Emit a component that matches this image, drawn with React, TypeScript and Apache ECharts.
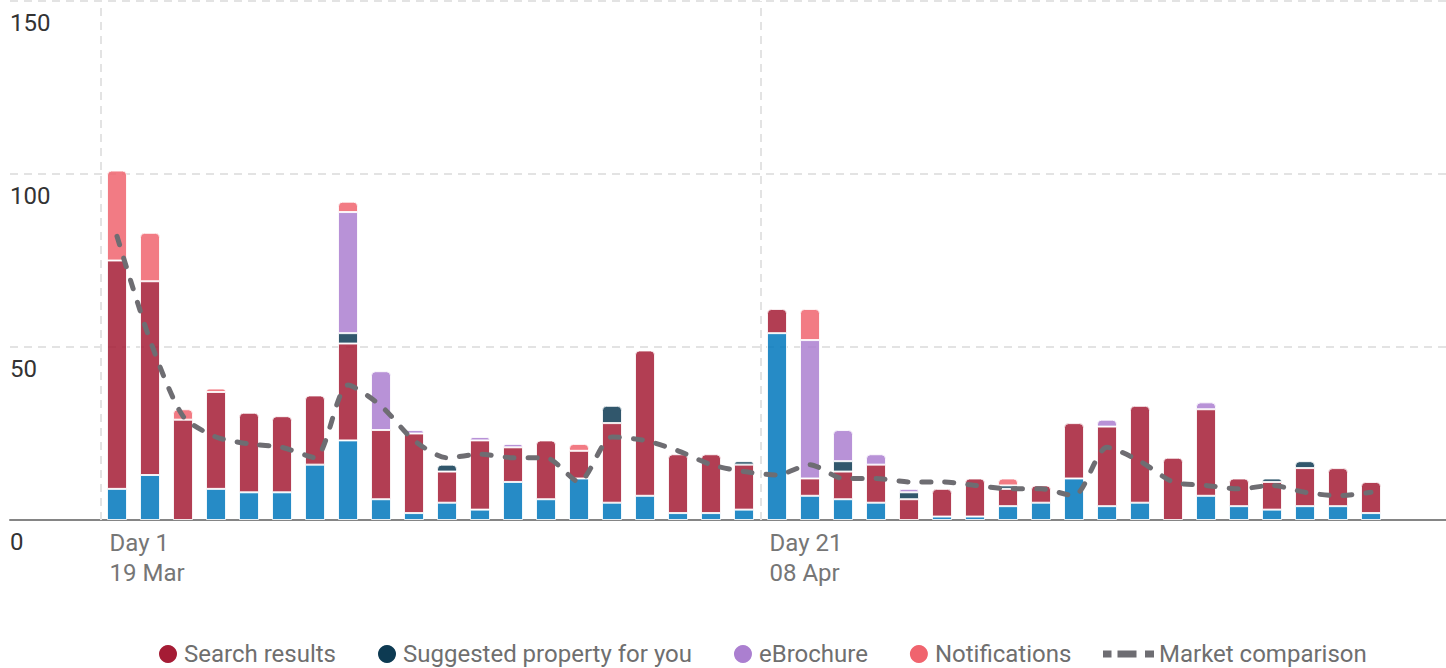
import React, { useEffect, useRef } from 'react';
import * as echarts from 'echarts';

// ---- data ----
const days = [1, 2, 3, 4, 5, 6, 7, 8, 9, 10, 11, 12, 13, 14, 15, 16, 17, 18, 19, 20, 21, 22, 23, 24, 25, 26, 27, 28, 29, 30, 31, 32, 33, 34, 35, 36, 37, 38, 39];
const tickDays = [1, 21];
const tickDayLabels = ['Day 1', 'Day 21'];
const tickDateLabels = ['19 Mar', '08 Apr'];

// bottom segment (not in legend)
const otherViews = [9, 13, 0, 9, 8, 8, 16, 23, 6, 2, 5, 3, 11, 6, 12, 5, 7, 2, 2, 3, 54, 7, 6, 5, 0, 1, 1, 4, 5, 12, 4, 5, 0, 7, 4, 3, 4, 4, 2];
const searchResults = [66, 56, 29, 28, 23, 22, 20, 28, 20, 23, 9, 20, 10, 17, 8, 23, 42, 17, 17, 13, 7, 5, 8, 11, 6, 8, 11, 5, 5, 16, 23, 28, 18, 25, 8, 8, 11, 11, 9];
const suggested = [0, 0, 0, 0, 0, 0, 0, 3, 0, 0, 2, 0, 0, 0, 0, 5, 0, 0, 0, 1, 0, 0, 3, 0, 2, 0, 0, 1, 0, 0, 0, 0, 0, 0, 0, 1, 2, 0, 0];
const eBrochure = [0, 0, 0, 0, 0, 0, 0, 35, 17, 1, 0, 1, 1, 0, 0, 0, 0, 0, 0, 0, 0, 40, 9, 3, 1, 0, 0, 0, 0, 0, 2, 0, 0, 2, 0, 0, 0, 0, 0];
const notifications = [26, 14, 3, 1, 0, 0, 0, 3, 0, 0, 0, 0, 0, 0, 2, 0, 0, 0, 0, 0, 0, 9, 0, 0, 0, 0, 0, 2, 0, 0, 0, 0, 0, 0, 0, 0, 0, 0, 0];
const marketComparison = [82, 52, 30, 24, 22, 21, 18, 39, 33, 23, 18, 19, 18, 18, 11, 24, 23, 20, 16, 14, 13, 16, 12, 12, 11, 11, 10, 9, 9, 7, 21, 17, 11, 10, 9, 10, 8, 7, 8];

const barSeriesDefs = [
  { name: 'Other', values: otherViews, color: '#0077bc' },
  { name: 'Search results', values: searchResults, color: '#a51c35' },
  { name: 'Suggested property for you', values: suggested, color: '#0d3a52' },
  { name: 'eBrochure', values: eBrochure, color: '#ab7fd0' },
  { name: 'Notifications', values: notifications, color: '#f0646e' },
];
const lineName = 'Market comparison';
const lineColor = '#6e6d72';

// ---- layout ----
const FONT = 'Roboto';
const W = 1446;
const PLOT_LEFT = 10;
const BAR_LEFT = 100.5; // left boundary of first day
const STEP = 33; // px per day
const BAR_AREA_W = STEP * days.length;
// value x-axis (full plot width) aligned with the category band of the bars
const X_MIN = 0.5 - (BAR_LEFT - PLOT_LEFT) / STEP;
const X_MAX = 0.5 + (W - BAR_LEFT) / STEP;
const DASH_ICON = 'path://M0,0H8.5V7H0Z M14.5,0H33.5V7H14.5Z M42,0H51V7H42Z';

export default function App() {
  const ref = useRef<HTMLDivElement>(null);

  useEffect(() => {
    if (!ref.current) return;
    const chart = echarts.init(ref.current, undefined, { renderer: 'svg' });

    // which series is topmost on each day (for rounded top corners)
    const topIdx = days.map((_, i) => {
      let t = -1;
      barSeriesDefs.forEach((s, si) => {
        if (s.values[i] > 0) t = si;
      });
      return t;
    });

    const barSeries = barSeriesDefs.map((s, si) => ({
      type: 'bar',
      name: s.name,
      stack: 'views',
      xAxisIndex: 1,
      yAxisIndex: 1,
      barWidth: 20,
      itemStyle: { color: s.color, opacity: 0.85, borderColor: '#ffffff', borderWidth: 1 },
      data: days.map((_, i) => ({
        value: s.values[i] > 0 ? s.values[i] : '-',
        itemStyle: topIdx[i] === si ? { borderRadius: [4, 4, 0, 0] } : undefined,
      })),
    }));

    const textBase = { fontFamily: FONT, fontSize: 24 };

    chart.setOption({
      animation: false,
      grid: [
        { left: PLOT_LEFT, right: 0, top: 1, bottom: 148, containLabel: false },
        { left: BAR_LEFT, width: BAR_AREA_W, top: 1, bottom: 148, containLabel: false },
      ],
      xAxis: [
        {
          type: 'value',
          gridIndex: 0,
          min: X_MIN,
          max: X_MAX,
          axisLine: { show: true, onZero: false, lineStyle: { color: '#858585', width: 2 } },
          axisTick: { show: false },
          splitLine: { show: false },
          axisLabel: {
            customValues: tickDays.map((d) => d - 0.5),
            formatter: (v: number) => {
              const k = tickDays.indexOf(Math.round(v + 0.5));
              return k >= 0 ? `${tickDayLabels[k]}\n${tickDateLabels[k]}` : '';
            },
            align: 'left',
            padding: [0, 0, 0, 9],
            margin: 8,
            lineHeight: 30,
            color: '#767676',
            ...textBase,
          },
        },
        {
          type: 'category',
          gridIndex: 1,
          data: days,
          boundaryGap: true,
          show: false,
        },
      ],
      yAxis: [
        {
          type: 'value',
          gridIndex: 0,
          min: 0,
          max: 150,
          interval: 50,
          axisLine: { show: false },
          axisTick: { show: false },
          splitLine: { lineStyle: { color: '#e3e3e3', width: 2, type: [8, 6] } },
          axisLabel: {
            inside: true,
            margin: 0,
            align: 'left',
            verticalAlign: 'top',
            padding: [10, 0, 0, 0],
            lineHeight: 24,
            color: '#333333',
            ...textBase,
          },
        },
        { type: 'value', gridIndex: 1, min: 0, max: 150, interval: 50, show: false },
      ],
      legend: [
        {
          data: barSeriesDefs.slice(1).map((s) => ({ name: s.name, icon: 'circle' })),
          left: 159,
          top: 641,
          padding: 0,
          itemWidth: 22,
          itemHeight: 18,
          itemGap: 42,
          selectedMode: false,
          itemStyle: { opacity: 1, borderWidth: 0 },
          textStyle: { color: '#6f6f6f', lineHeight: 26, ...textBase },
        },
        {
          data: [{ name: lineName, icon: DASH_ICON }],
          left: 1103,
          top: 641,
          padding: 0,
          itemWidth: 51,
          itemHeight: 7,
          selectedMode: false,
          itemStyle: { color: lineColor, opacity: 1, borderWidth: 0 },
          textStyle: { color: '#6f6f6f', lineHeight: 26, ...textBase },
        },
      ],
      series: [
        ...barSeries,
        {
          type: 'line',
          name: lineName,
          xAxisIndex: 0,
          yAxisIndex: 0,
          z: 10,
          smooth: 0.25,
          symbol: 'none',
          itemStyle: { color: lineColor },
          lineStyle: { color: lineColor, width: 5, type: [9, 14], cap: 'round' },
          data: days.map((d, i) => [d, marketComparison[i]]),
          markLine: {
            silent: true,
            symbol: 'none',
            z: 1,
            label: { show: false },
            lineStyle: { color: '#e3e3e3', width: 2, type: [8, 6] },
            data: tickDays.map((d) => ({ xAxis: d - 0.5 })),
          },
        },
      ],
    });

    return () => chart.dispose();
  }, []);

  return (
    <div
      ref={ref}
      style={{ position: 'absolute', left: 0, top: 0, width: W, height: 668, background: '#ffffff' }}
    />
  );
}
